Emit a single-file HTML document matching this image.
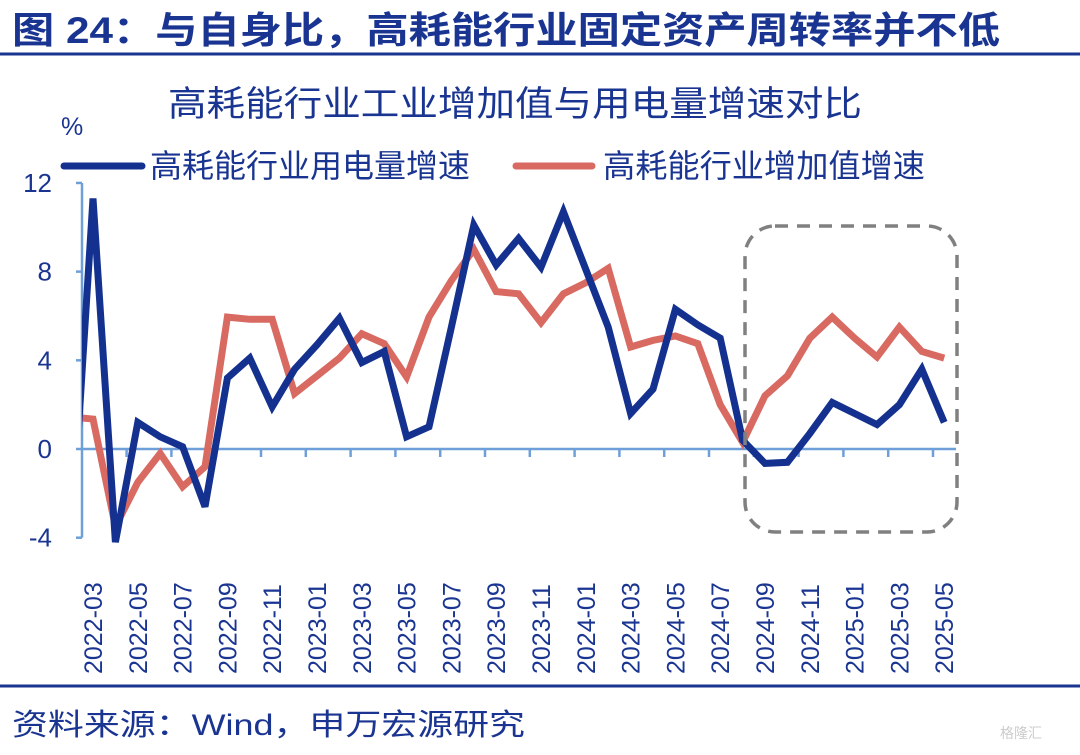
<!DOCTYPE html>
<html><head><meta charset="utf-8">
<style>
html,body{margin:0;padding:0;background:#fff;}
body{width:1080px;height:750px;overflow:hidden;font-family:"Liberation Sans","Noto Sans CJK SC",sans-serif;}
svg text{font-family:"Liberation Sans","Noto Sans CJK SC",sans-serif;}
</style></head>
<body>
<svg id="chart" width="1080" height="750" xmlns="http://www.w3.org/2000/svg">
<text x="12" y="43" font-size="37" font-weight="bold" fill="#1a3591" textLength="988" lengthAdjust="spacingAndGlyphs">图 24：与自身比，高耗能行业固定资产周转率并不低</text>
<line x1="0" y1="54" x2="1080" y2="54" stroke="#1a3591" stroke-width="3"/>
<text x="168" y="116" font-size="35" fill="#1a3591" textLength="694" lengthAdjust="spacingAndGlyphs">高耗能行业工业增加值与用电量增速对比</text>
<text x="61" y="135" font-size="25" fill="#1a3591">%</text>
<g>
<line x1="64" y1="166" x2="142" y2="166" stroke="#14318f" stroke-width="7" stroke-linecap="round"/>
<text x="150" y="177" font-size="32" fill="#1a3591" textLength="320" lengthAdjust="spacingAndGlyphs">高耗能行业用电量增速</text>
<line x1="516" y1="166" x2="592" y2="166" stroke="#d86a62" stroke-width="7" stroke-linecap="round"/>
<text x="603" y="177" font-size="32" fill="#1a3591" textLength="322" lengthAdjust="spacingAndGlyphs">高耗能行业增加值增速</text>
</g>
<g id="axes"></g>
<g id="plot"></g>
<rect x="745" y="226" width="212" height="306" rx="30" ry="30" fill="none" stroke="#808080" stroke-width="3.5" stroke-dasharray="13 9"/>
<line x1="0" y1="686" x2="1080" y2="686" stroke="#1a3591" stroke-width="3"/>
<text x="12" y="735" font-size="30" fill="#1a3591" textLength="513" lengthAdjust="spacingAndGlyphs">资料来源：Wind，申万宏源研究</text>
<text x="1000" y="738" font-size="14" fill="#cccccc">格隆汇</text>
</svg>
<script>
const months = ["2022-02","2022-03","2022-04","2022-05","2022-06","2022-07","2022-08","2022-09","2022-10","2022-11","2022-12","2023-01","2023-02","2023-03","2023-04","2023-05","2023-06","2023-07","2023-08","2023-09","2023-10","2023-11","2023-12","2024-01","2024-02","2024-03","2024-04","2024-05","2024-06","2024-07","2024-08","2024-09","2024-10","2024-11","2024-12","2025-01","2025-02","2025-03","2025-04","2025-05"];
const powerGrowth = [-4.7,11.3,-4.2,1.2,0.55,0.1,-2.6,3.2,4.1,1.9,3.6,4.7,5.9,3.9,4.4,0.55,1.0,5.5,10.1,8.3,9.5,8.2,10.7,8.1,5.5,1.6,2.7,6.3,5.6,5.0,0.4,-0.65,-0.6,0.7,2.1,1.6,1.1,2.0,3.6,1.2];
const valueAddedGrowth = [1.45,1.35,-3.5,-1.5,-0.2,-1.7,-0.8,5.95,5.85,5.85,2.5,3.3,4.1,5.2,4.75,3.25,5.95,7.6,9.0,7.1,7.0,5.7,7.0,7.5,8.15,4.6,4.9,5.1,4.75,2.0,0.3,2.4,3.3,5.0,5.95,5.0,4.15,5.5,4.4,4.1];
const yTicks = [12,8,4,0,-4];

const NS="http://www.w3.org/2000/svg";
const x0=70.6, step=22.4;
const xs=i=>x0+step*i;
const ys=v=>449-v*22.17;
const axes=document.getElementById('axes'), plot=document.getElementById('plot');
function mk(tag,attrs,parent){const e=document.createElementNS(NS,tag);for(const k in attrs)e.setAttribute(k,attrs[k]);parent.appendChild(e);return e;}

const defs=mk('defs',{},document.getElementById('chart'));
const cp=mk('clipPath',{id:'clip'},defs);
mk('rect',{x:82,y:150,width:900,height:400},cp);

const yl=mk('line',{x1:82,y1:ys(12),x2:82,y2:ys(-4),stroke:'#6f9fd8','stroke-width':2.5},axes);


yTicks.forEach(t=>{
  const tk=mk('line',{x1:76,y1:ys(t),x2:82,y2:ys(t),stroke:'#6f9fd8','stroke-width':2.5},axes);
  
  
  const tx=mk('text',{x:52,y:ys(t)+9,'font-size':26,fill:'#1a3591','text-anchor':'end'},axes);
  
  
  tx.textContent=t;
});
const xl=mk('line',{x1:82,y1:ys(0),x2:956,y2:ys(0),stroke:'#6f9fd8','stroke-width':2.5},axes);


for(let i=1;i<months.length;i++){
  if(i%2===0){
    const tk=mk('line',{x1:xs(i+0.5),y1:ys(0),x2:xs(i+0.5),y2:ys(0)+8,stroke:'#6f9fd8','stroke-width':2.5},axes);
    
    
  }
  if(i%2===1){
    const x=xs(i)+9, y=674;
    const tx=mk('text',{x:x,y:y,'font-size':25,fill:'#1a3591',transform:`rotate(-90 ${x} ${y})`},axes);
    
    
    tx.textContent=months[i];
  }
}
function series(data,color,name){
  const p=mk('polyline',{points:data.map((v,i)=>xs(i)+','+ys(v)).join(' '),fill:'none',stroke:color,'stroke-width':7,'stroke-linejoin':'miter','stroke-miterlimit':3,'clip-path':'url(#clip)'},plot);
  
  
}
series(valueAddedGrowth,'#d86a62','line-value-added-growth');
series(powerGrowth,'#14318f','line-power-growth');
</script>
</body></html>
